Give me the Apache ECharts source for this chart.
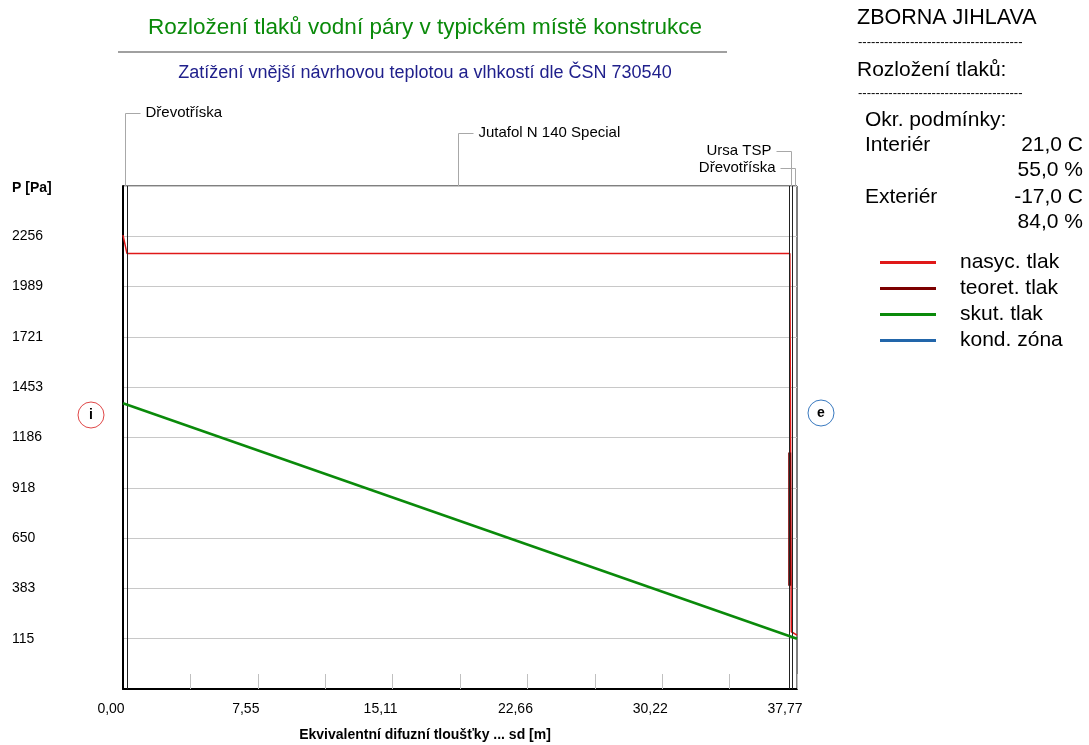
<!DOCTYPE html>
<html><head><meta charset="utf-8">
<script src="https://cdn.jsdelivr.net/npm/echarts@6/dist/echarts.min.js"></script>
<style>html,body{margin:0;padding:0;background:#fff}#c{width:1089px;height:745px}</style>
</head><body><div id="c"></div>
<script>
// ---- data ----
const yTickLabels = ['115','383','650','918','1186','1453','1721','1989','2256'];
const yMin = -152.6, yMax = 2523.6;
const xMin = 0, xMax = 37.77, xStep = 7.554;
const layerNames = ['Dřevotříska','Jutafol N 140 Special','Ursa TSP','Dřevotříska'];
const layerBounds = [0, 0.22, 37.35, 37.49, 37.77];
const nasycTlak = [[0,2262],[0.22,2165],[37.37,2165],[37.45,152],[37.77,134]];
const teoretTlak = [[37.36,1106],[37.36,397]];
const skutTlak = [[0,1368],[37.77,115]];
const kondZona = [];
const seriesNames = ['nasyc. tlak','teoret. tlak','skut. tlak','kond. zóna'];
const headerLines = ['ZBORNA JIHLAVA','Rozložení tlaků:'];
const condTitle = 'Okr. podmínky:';
const condRows = [['Interiér','21,0 C'],['','55,0 %'],['Exteriér','-17,0 C'],['','84,0 %']];
const titleText = 'Rozložení tlaků vodní páry v typickém místě konstrukce';
const subText = 'Zatížení vnější návrhovou teplotou a vlhkostí dle ČSN 730540';
const yName = 'P [Pa]';
const xName = 'Ekvivalentní difuzní tloušťky ... sd [m]';

// ---- styles ----
const FF = '"Liberation Sans", Arial, sans-serif';
const colors = ['#e01818', '#7c0000', '#0a8a0a', '#2266aa'];
const GRID = {left:123, right:292, top:186, bottom:56};

const chart = echarts.init(document.getElementById('c'), null, {renderer:'canvas'});

const dashes = '-'.repeat(38);
const staticGraphics = [
  {type:'text', x:425, y:28, style:{text:titleText, font:'22.5px '+FF, fill:'#0a8a0a', align:'center', verticalAlign:'middle'}},
  {type:'line', shape:{x1:118, y1:52, x2:727, y2:52}, style:{stroke:'#a0a0a0', lineWidth:2}},
  {type:'text', x:425, y:73, style:{text:subText, font:'18px '+FF, fill:'#20208c', align:'center', verticalAlign:'middle'}},
  {type:'text', x:12, y:188, style:{text:yName, font:'bold 14px '+FF, fill:'#000', align:'left', verticalAlign:'middle'}},
  {type:'text', x:425, y:735, style:{text:xName, font:'bold 14px '+FF, fill:'#000', align:'center', verticalAlign:'middle'}},
  {type:'text', x:857, y:18, style:{text:headerLines[0], font:'21.5px '+FF, fill:'#000', align:'left', verticalAlign:'middle'}},
  {type:'text', x:858, y:42, style:{text:dashes, font:'13px '+FF, fill:'#000', align:'left', verticalAlign:'middle'}},
  {type:'text', x:857, y:70, style:{text:headerLines[1], font:'21px '+FF, fill:'#000', align:'left', verticalAlign:'middle'}},
  {type:'text', x:858, y:93, style:{text:dashes, font:'13px '+FF, fill:'#000', align:'left', verticalAlign:'middle'}},
  {type:'text', x:865, y:120, style:{text:condTitle, font:'21px '+FF, fill:'#000', align:'left', verticalAlign:'middle'}},
  // circles i / e
  {type:'circle', shape:{cx:91, cy:415, r:13}, style:{fill:'#fff', stroke:'#e04848', lineWidth:1}},
  {type:'text', x:91, y:415, style:{text:'i', font:'bold 14px '+FF, fill:'#000', align:'center', verticalAlign:'middle'}},
  {type:'circle', shape:{cx:821, cy:413, r:13}, style:{fill:'#fff', stroke:'#3a7ac0', lineWidth:1}},
  {type:'text', x:821, y:413, style:{text:'e', font:'bold 14px '+FF, fill:'#000', align:'center', verticalAlign:'middle'}}
];
const condY = [145, 170, 197, 222];
condRows.forEach((r, i) => {
  if (r[0]) staticGraphics.push({type:'text', x:865, y:condY[i], style:{text:r[0], font:'21px '+FF, fill:'#000', align:'left', verticalAlign:'middle'}});
  staticGraphics.push({type:'text', x:1083, y:condY[i], style:{text:r[1], font:'21px '+FF, fill:'#000', align:'right', verticalAlign:'middle'}});
});

const option = {
  animation:false,
  backgroundColor:'#fff',
  grid:{left:GRID.left, right:GRID.right, top:GRID.top, bottom:GRID.bottom, show:true, borderColor:'#000', borderWidth:1, containLabel:false},
  legend:{
    data:seriesNames, orient:'vertical', left:880, top:252, padding:0, icon:'rect', itemWidth:56, itemHeight:3, itemGap:5,
    textStyle:{fontFamily:FF, fontSize:21, color:'#000', padding:[0,0,0,19], lineHeight:20},
    selectedMode:false
  },
  xAxis:{
    type:'value', min:xMin, max:xMax, interval:xStep, z:1,
    axisLine:{show:true, onZero:false, lineStyle:{color:'#000', width:2}},
    axisTick:{show:true, inside:true, length:15, lineStyle:{color:'#c0c0c0'}},
    minorTick:{show:true, splitNumber:2, length:15, lineStyle:{color:'#c0c0c0'}},
    splitLine:{show:false},
    axisLabel:{margin:13, fontFamily:FF, fontSize:14, color:'#000', padding:[0,24,0,0],
      formatter:v => v.toFixed(2).replace('.', ',')}
  },
  yAxis:[
    {type:'value', min:yMin, max:yMax, position:'left', z:3,
      axisLine:{show:true, onZero:false, lineStyle:{color:'#000', width:2}},
      axisTick:{show:false}, axisLabel:{show:false}, splitLine:{show:false}},
    {type:'category', data:['', ...yTickLabels, ''], boundaryGap:false, position:'left', z:0,
      axisLine:{show:false}, axisTick:{show:false},
      axisLabel:{interval:0, margin:111, align:'left', fontFamily:FF, fontSize:14, color:'#000'},
      splitLine:{show:true, interval:0, lineStyle:{color:'#c8c8c8', width:1}}}
  ],
  series:[
    {name:seriesNames[0], type:'line', data:nasycTlak, yAxisIndex:0, symbol:'none', color:colors[0], lineStyle:{width:1.5, color:colors[0]}, z:3},
    {name:seriesNames[1], type:'line', data:teoretTlak, yAxisIndex:0, symbol:'none', color:colors[1], lineStyle:{width:3, color:colors[1]}, z:4},
    {name:seriesNames[2], type:'line', data:skutTlak, yAxisIndex:0, symbol:'none', color:colors[2], lineStyle:{width:2.5, color:colors[2]}, z:5},
    {name:seriesNames[3], type:'line', data:kondZona, yAxisIndex:0, symbol:'none', color:colors[3], lineStyle:{width:3, color:colors[3]}, z:5,
      markLine:{silent:true, symbol:'none', animation:false, label:{show:false},
        lineStyle:{color:'#222', width:1, type:'solid'},
        data:layerBounds.slice(1, -1).map(v => ({xAxis:v}))}}
  ],
  graphic:staticGraphics
};
chart.setOption(option);

// layer leaders placed from layer centres through the x scale
const leaderY = [113, 133, 151, 168];
const leaderSide = ['right','right','left','left'];
const topPx = chart.convertToPixel({yAxisIndex:0}, yMax);
const leaders = [];
layerNames.forEach((name, i) => {
  const c = (layerBounds[i] + layerBounds[i+1]) / 2;
  const cx = Math.round(chart.convertToPixel({xAxisIndex:0}, c)) + 0.5;
  const ly = leaderY[i] + 0.5;
  const dir = leaderSide[i] === 'right' ? 1 : -1;
  leaders.push({type:'polyline', shape:{points:[[cx, topPx], [cx, ly], [cx + dir*15, ly]]}, style:{stroke:'#a8a8a8', lineWidth:1, fill:null}, z:10});
  leaders.push({type:'text', x:cx + dir*20, y:leaderY[i], style:{text:name, font:'15px '+FF, fill:'#000', align:dir>0?'left':'right', verticalAlign:'middle'}, z:10});
});
chart.setOption({graphic:staticGraphics.concat(leaders)});
</script>
</body></html>
